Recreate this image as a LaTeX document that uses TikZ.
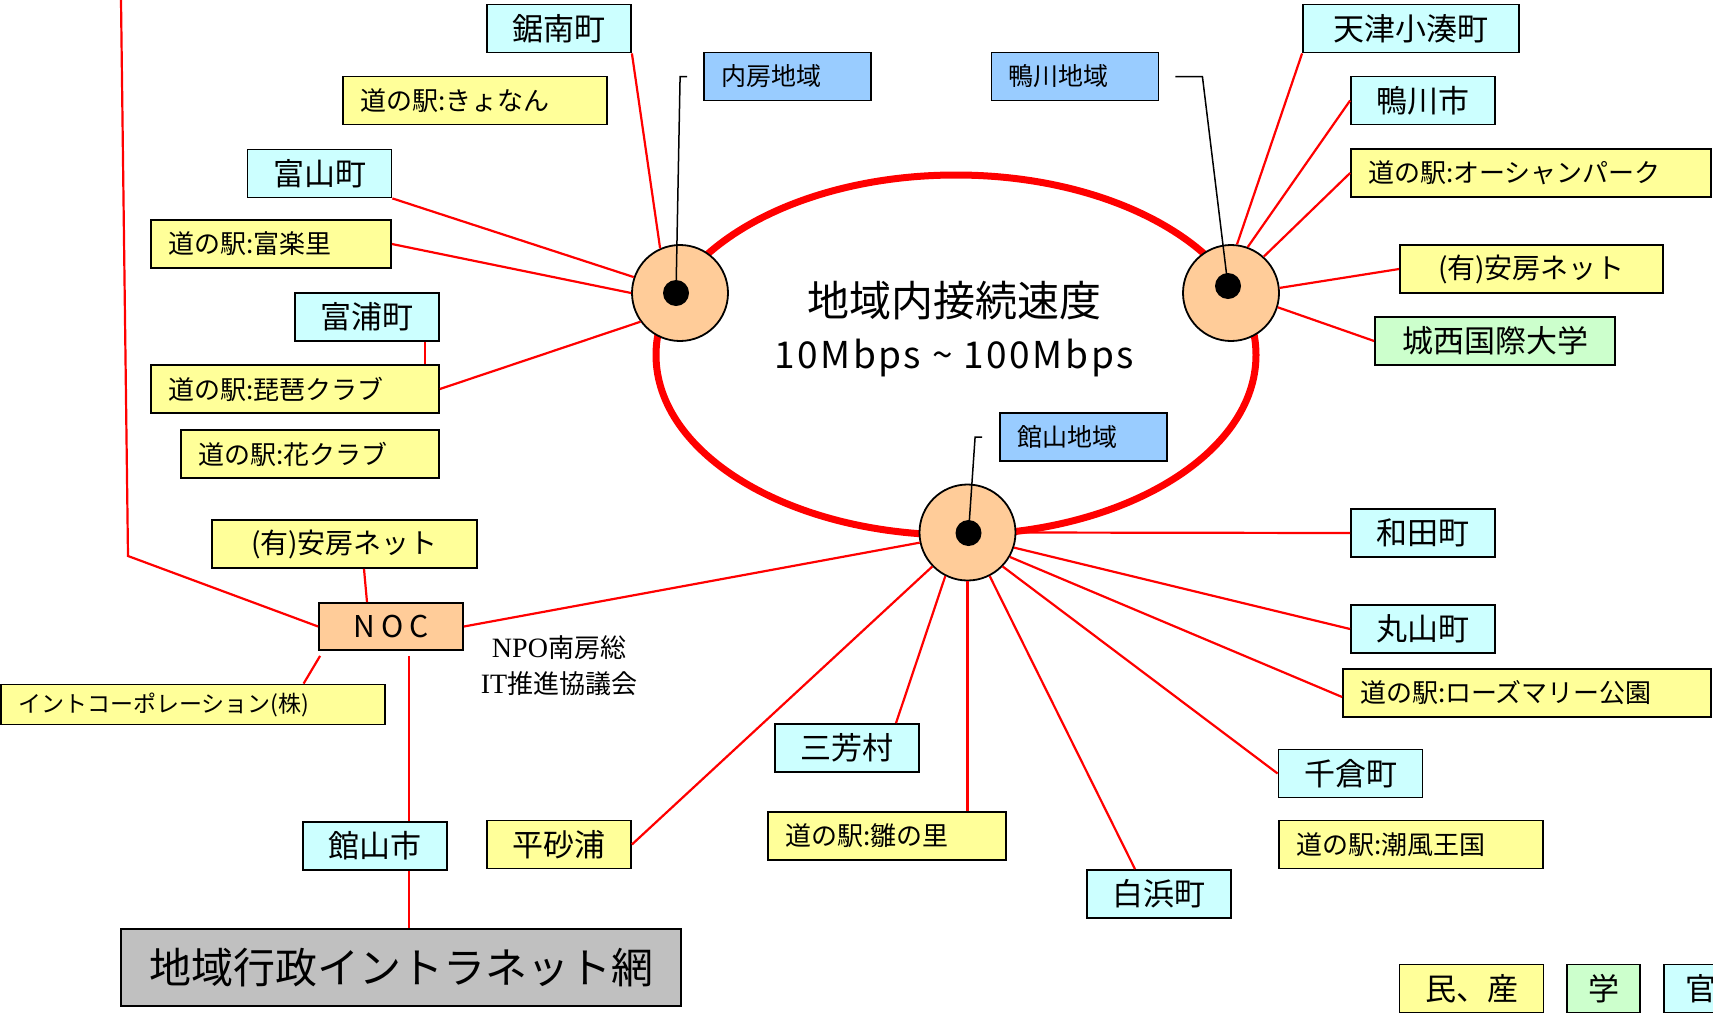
\documentclass[tikz,border=0pt]{standalone}
\usepackage{fontspec}
\setmainfont{Noto Sans CJK JP}
\newfontfamily\npofont{Liberation Serif}
\usepackage{tikz}
\usetikzlibrary{calc}

\definecolor{cyanbox}{HTML}{CCFFFF}
\definecolor{yellowbox}{HTML}{FFFF99}
\definecolor{bluebox}{HTML}{99CCFF}
\definecolor{greenbox}{HTML}{CCFFCC}
\definecolor{orangebox}{HTML}{FFCC99}
\definecolor{graybox}{HTML}{C0C0C0}

\begin{document}
\begin{tikzpicture}[x=1pt, y=-1pt,
  box/.style={draw, line width=1.8pt, minimum height=48pt, inner sep=0pt},
  town/.style={box, fill=cyanbox, minimum width=144pt, font=\fontsize{31}{34}\selectfont},
  eki/.style={box, fill=yellowbox, inner xsep=17pt, align=left, font=\fontsize{26}{30}\selectfont},
  area/.style={box, fill=bluebox, inner xsep=17pt, text width=133pt, align=left, font=\fontsize{25}{28}\selectfont},
  hub/.style={circle, draw, line width=1.8pt, fill=orangebox, minimum size=96pt, inner sep=0pt},
  dot/.style={circle, fill=black, minimum size=26pt, inner sep=0pt},
  link/.style={red, line width=2.2pt},
  leader/.style={black, line width=1.5pt}]

\useasboundingbox (0,0) rectangle (1713,1015);

% ring
\draw[red, line width=7pt] (956,355) ellipse [x radius=300, y radius=180];
\node(speed)[align=center, font=\fontsize{42}{52}\selectfont] at (954,329)
  {地域内接続速度\\{\fontsize{37}{52}\selectfont\addfontfeatures{LetterSpace=7}10Mbps \textasciitilde{} 100Mbps}};

\node(hubL)[hub] at (680,293){};
\node(hubR)[hub] at (1231,293){};
\node(hubB)[hub] at (967.5,532.5){};

% uchibo side
\node(kyonan)[town] at (559,28.5){鋸南町};
\node(kyonanE)[eki, text width=230pt] at (475,100.5){道の駅:きょなん};
\node(tomiyama)[town] at (319.5,173.5){富山町};
\node(furari)[eki, text width=206pt] at (271,244){道の駅:富楽里};
\node(tomiura)[town] at (367,317){富浦町};
\node(biwa)[eki, text width=254pt] at (295,389){道の駅:琵琶クラブ};
\node(hana)[eki, text width=224pt] at (310,454){道の駅:花クラブ};
\node(uchibo)[area] at (787.5,76.5){内房地域};

% kamogawa side
\node(kamoA)[area] at (1075,76.5){鴨川地域};
\node(amatsu)[town, minimum width=216pt] at (1411,28.5){天津小湊町};
\node(kamogawa)[town] at (1423,100.5){鴨川市};
\node(ocean)[eki, text width=326pt] at (1531,173){道の駅:オーシャンパーク};
\node(awa1)[town, fill=yellowbox, minimum width=263pt, font=\fontsize{28}{32}\selectfont] at (1531.5,269){(有)安房ネット};
\node(josai)[town, fill=greenbox, minimum width=240pt] at (1495,341){城西国際大学};

% tateyama side
\node(tateA)[area] at (1083.5,437){館山地域};
\node(wada)[town] at (1423,533){和田町};
\node(maru)[town] at (1423,629){丸山町};
\node(rose)[eki, text width=334pt] at (1527,693){道の駅:ローズマリー公園};
\node(chikura)[town] at (1350.5,773.5){千倉町};
\node(shiokaze)[eki, text width=230pt] at (1411,844.5){道の駅:潮風王国};
\node(shira)[town] at (1159,894){白浜町};
\node(hina)[eki, text width=204pt] at (887,836){道の駅:雛の里};
\node(miyoshi)[town] at (847,748){三芳村};
\node(heisa)[town, fill=yellowbox] at (559,844.5){平砂浦};

% NOC
\node(noc)[box, fill=orangebox, minimum width=144pt, minimum height=47pt, font=\fontsize{30}{34}\selectfont\addfontfeatures{LetterSpace=20}] at (391,626.5){NOC};
\node(awa2)[town, fill=yellowbox, minimum width=265pt, font=\fontsize{28}{32}\selectfont] at (344.5,544){(有)安房ネット};
\node(into)[eki, text width=350pt, minimum height=40pt, font=\fontsize{23}{26}\selectfont] at (193,704.5){イントコーポレーション(株)};
\node(npo)[align=center, font=\fontsize{26}{36}\selectfont] at (559,666)
  {{\npofont\fontsize{28}{36}\selectfont NPO}南房総\\{\npofont\fontsize{28}{36}\selectfont IT}推進協議会};
\node(tateS)[town] at (375,846){館山市};
\node(intra)[box, fill=graybox, minimum width=560pt, minimum height=77pt, font=\fontsize{42}{48}\selectfont] at (401,967.5){地域行政イントラネット網};

% legend
\node(minsan)[town, fill=yellowbox] at (1471.5,988.5){民、産};
\node(gaku)[town, fill=greenbox, minimum width=73pt] at (1603.5,988.5){学};
\node(kan)[town, minimum width=73pt] at (1700.5,988.5){官};

\draw[link] (hubL.114) -- (kyonan.south east);
\draw[link] (hubL.161) -- (tomiyama.south east);
\draw[link] (hubL.180) -- (furari.east);
\draw[link] (hubL.216) -- (biwa.east);
\draw[link] ([xshift=-15pt]tomiura.south east) -- ([xshift=-15pt]biwa.north east);

\draw[link] (hubR.83) -- (amatsu.south west);
\draw[link] (hubR.70) -- (kamogawa.west);
\draw[link] (hubR.48) -- (ocean.west);
\draw[link] (hubR.6) -- (awa1.west);
\draw[link] (hubR.343) -- (josai.west);

\draw[link] (hubB.192) -- (noc.east);
\draw[link] (hubB.224) -- (heisa.east);
\draw[link] (hubB.243) -- ([xshift=49pt]miyoshi.north);
\draw[link] (hubB.south) -- (hubB.south |- hina.north);
\draw[link] (hubB.297) -- ([xshift=-24pt]shira.north);
\draw[link] (hubB.316) -- (chikura.west);
\draw[link] (hubB.330) -- ([yshift=-4pt]rose.west);
\draw[link] (hubB.342) -- (maru.west);
\draw[link] (hubB.east) -- (wada.west);

\coordinate (bend) at (128,556);
\coordinate (top) at (121,0);
\draw[link] (noc.west) -- (bend) -- (top);
\draw[link] ([xshift=-24pt]noc.north) -- ([xshift=19.5pt]awa2.south);
\draw[link] ([xshift=2pt,yshift=-5pt]noc.south west) -- ([xshift=110.6pt]into.north);
\draw[link] ([xshift=18pt,yshift=-5pt]noc.south) -- ([xshift=34pt]tateS.north);
\draw[link] ([xshift=34pt]tateS.south) -- ([xshift=34pt]tateS.south |- intra.north);

\node(dotL)[dot] at (676,293){};
\node(dotR)[dot] at (1228,286){};
\node(dotB)[dot] at (968.5,533){};

\draw[leader] ([xshift=-16pt]uchibo.west) -- ++(-7,0) -- (dotL.center);
\draw[leader] ([xshift=16pt]kamoA.east) -- ++(27,0) -- (dotR.center);
\draw[leader] ([xshift=-17pt]tateA.west) -- ++(-7,0) -- (dotB.center);
\end{tikzpicture}
\end{document}
